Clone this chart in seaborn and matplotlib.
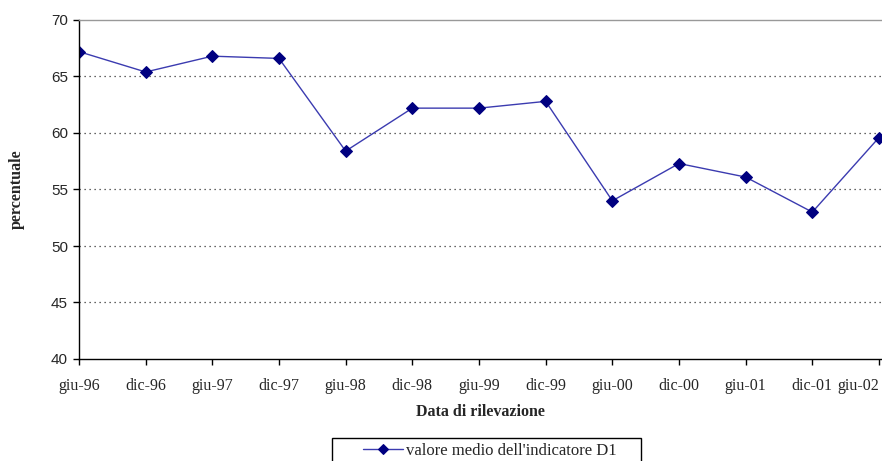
import matplotlib
matplotlib.use("Agg")
import matplotlib.pyplot as plt
from matplotlib.patches import Rectangle
import seaborn as sns
import pandas as pd

# Survey dates and mean value of indicator D1 (percent)
dates = ["giu-96", "dic-96", "giu-97", "dic-97", "giu-98", "dic-98", "giu-99",
         "dic-99", "giu-00", "dic-00", "giu-01", "dic-01", "giu-02"]
d1_mean = [67.2, 65.4, 66.8, 66.6, 58.4, 62.2, 62.2,
           62.8, 54.0, 57.3, 56.1, 53.0, 59.6]
y_ticks = [40, 45, 50, 55, 60, 65, 70]
series_label = "valore medio dell'indicatore D1"

df = pd.DataFrame({"data": dates, "valore": d1_mean})

sns.set_theme(style="white")
plt.rcParams["font.family"] = ["Liberation Serif", "DejaVu Serif"]

fig = plt.figure(figsize=(8.82, 4.61), dpi=100)
ax = fig.add_axes([79 / 882, 1 - 359 / 461, 802 / 882, 339 / 461])

sns.lineplot(data=df, x="data", y="valore", sort=False, ax=ax,
             color="#3b3bb0", linewidth=1.0, marker="D", markersize=6,
             markerfacecolor="#000080", markeredgecolor="#000080",
             label=series_label, legend=False)

ax.set_xlim(0, 12.03)
ax.set_ylim(40, 70)
ax.set_yticks(y_ticks)
ax.set_xticks(range(len(dates)))
ax.set_xticklabels(dates, fontsize=11.5, family="Liberation Serif")
ax.set_yticklabels([str(v) for v in y_ticks], fontsize=11,
                   family="Liberation Sans")

# last date label is pulled inside the figure edge
last = ax.get_xticklabels()[-1]
last.set_horizontalalignment("right")
last.set_x(12.0)
import matplotlib.transforms as mtrans
last.set_transform(last.get_transform() +
                   mtrans.ScaledTranslation(-2 / 100, 0, fig.dpi_scale_trans))

for v in y_ticks[1:-1]:
    ax.axhline(v, color="#333333", linestyle=(0, (1, 3)), linewidth=0.9,
               zorder=0)

ax.tick_params(axis="both", direction="out", length=4, width=1,
               color="black", bottom=True, left=True)
ax.tick_params(axis="x", pad=10)
ax.tick_params(axis="y", pad=4)

for side in ["left", "bottom"]:
    ax.spines[side].set_color("black")
    ax.spines[side].set_linewidth(1.0)
ax.spines["top"].set_color("#999999")
ax.spines["top"].set_linewidth(1.0)
ax.spines["right"].set_visible(False)

ax.set_xlabel("Data di rilevazione", fontsize=11.5, fontweight="bold",
              family="Liberation Serif", labelpad=7)
ax.set_ylabel("percentuale", fontsize=11.5, fontweight="bold",
              family="Liberation Serif", labelpad=19)

# legend frame running off the bottom edge
fig.patches.append(Rectangle((332 / 882, -0.05), 309 / 882,
                             (1 - 438 / 461) + 0.05,
                             transform=fig.transFigure, fill=False,
                             edgecolor="black", linewidth=1.0))

handles, labels = ax.get_legend_handles_labels()
leg = fig.legend(handles, labels, loc="center",
                 bbox_to_anchor=(490 / 882, 1 - 451 / 461),
                 frameon=False, borderaxespad=0,
                 prop={"family": "Liberation Serif", "size": 12},
                 handlelength=2.4, handletextpad=0.15, borderpad=0)
for h in leg.legend_handles:
    h.set_markersize(5)

fig.savefig("out.png", dpi=100)
